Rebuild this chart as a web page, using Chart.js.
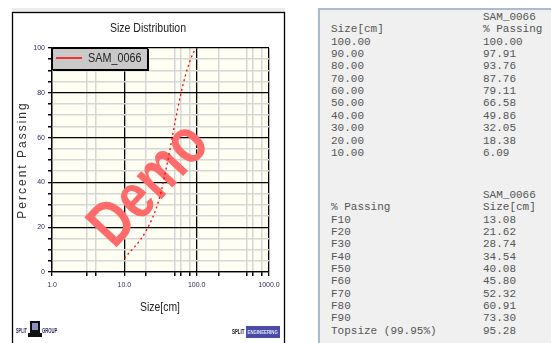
<!DOCTYPE html>
<html>
<head>
<meta charset="utf-8">
<script src="https://cdn.jsdelivr.net/npm/chart.js@4.4.0/dist/chart.umd.min.js"></script>
<style>
  html, body { margin:0; padding:0; background:#ffffff; width:551px; height:343px; overflow:hidden; }
  #wrap { position:absolute; left:0; top:0; width:290px; height:343px; }
  #panel { position:absolute; left:318px; top:8px; width:233px; height:335px; background:#f0f0f0;
           border-left:2px solid #a9bccd; border-top:2px solid #a9bccd; box-sizing:border-box; }
  .t { position:absolute; font-family:'Liberation Mono','DejaVu Sans Mono',monospace; font-size:11px;
       line-height:12px; color:#555555; white-space:pre; }
</style>
</head>
<body>
<div id="wrap"><canvas id="c" width="290" height="343"></canvas></div>
<div id="panel"></div>
<div id="txt"></div>
<script>
// ---------- data ----------
const sampleName = 'SAM_0066';
const sizes   = [100.00, 90.00, 80.00, 70.00, 60.00, 50.00, 40.00, 30.00, 20.00, 10.00];
const passing = [100.00, 97.91, 93.76, 87.76, 79.11, 66.58, 49.86, 32.05, 18.38, 6.09];
const fLabels = ['F10','F20','F30','F40','F50','F60','F70','F80','F90','Topsize (99.95%)'];
const fSizes  = [13.08, 21.62, 28.74, 34.54, 40.08, 45.80, 52.32, 60.91, 73.30, 95.28];
const xMajorTicks = [1, 10, 100, 1000];
const xGridTicks  = [1, 3, 4, 10, 20, 50, 60, 80, 100, 200, 500, 600, 800, 1000];
const yTicks = [0, 20, 40, 60, 80, 100];
const yGridStep = 5;

// ---------- right text panel ----------
(function(){
  const box = document.getElementById('txt');
  const col1 = 331, col2 = 483, step = 12.35;
  function put(text, x, cy){
    const s = document.createElement('div');
    s.className = 't'; s.textContent = text;
    s.style.left = x + 'px'; s.style.top = (cy - 6.5) + 'px';
    box.appendChild(s);
  }
  let y0 = 17.5;
  put(sampleName, col2, y0);
  put('Size[cm]', col1, y0 + step);
  put('% Passing', col2, y0 + step);
  sizes.forEach((s, i) => {
    put(s.toFixed(2), col1, y0 + step * (i + 2));
    put(passing[i].toFixed(2), col2, y0 + step * (i + 2));
  });
  let y1 = 195.3;
  put(sampleName, col2, y1);
  put('% Passing', col1, y1 + step);
  put('Size[cm]', col2, y1 + step);
  fLabels.forEach((l, i) => {
    put(l, col1, y1 + step * (i + 2));
    put(fSizes[i].toFixed(2), col2, y1 + step * (i + 2));
  });
})();

// ---------- chart ----------
function scaledText(ctx, text, x, y, font, sx, align, color){
  ctx.save();
  ctx.font = font;
  ctx.fillStyle = color || '#222';
  ctx.textBaseline = 'middle';
  const w = ctx.measureText(text).width * sx;
  let left = x;
  if (align === 'center') left = x - w / 2;
  else if (align === 'right') left = x - w;
  ctx.translate(left, y);
  ctx.scale(sx, 1);
  ctx.textAlign = 'left';
  ctx.fillText(text, 0, 0);
  ctx.restore();
}

const decor = {
  id: 'decor',
  beforeDraw(chart){
    const ctx = chart.ctx, a = chart.chartArea;
    ctx.save();
    ctx.fillStyle = '#ffffff';
    ctx.fillRect(0, 0, chart.width, chart.height);
    ctx.fillStyle = '#ececec';
    ctx.fillRect(12, 8, 273, 4);
    ctx.strokeStyle = '#000';
    ctx.lineWidth = 1.3;
    ctx.strokeRect(12.5, 12.5, 272, 340);
    ctx.fillStyle = '#fffef2';
    ctx.fillRect(a.left, a.top, a.right - a.left, a.bottom - a.top);
    ctx.restore();
  },
  beforeDatasetsDraw(chart){
    // watermark
    const ctx = chart.ctx;
    ctx.save();
    ctx.translate(146, 182);
    ctx.rotate(-47 * Math.PI / 180);
    ctx.scale(0.8, 1);
    ctx.font = 'bold 64px "Liberation Sans", Arial, sans-serif';
    ctx.fillStyle = '#ff6a6a';
    ctx.textAlign = 'center';
    ctx.textBaseline = 'alphabetic';
    ctx.fillText('Demo', 0, 23);
    ctx.restore();
  },
  afterDatasetsDraw(chart){
    const ctx = chart.ctx, a = chart.chartArea;
    const ds = chart.data.datasets[0];
    // legend box
    ctx.save();
    ctx.fillStyle = '#c9c9c9';
    ctx.fillRect(a.left, a.top, 95, 21);
    ctx.strokeStyle = '#000';
    ctx.lineWidth = 1;
    ctx.strokeRect(a.left + 0.5, a.top + 0.5, 95, 21);
    ctx.fillStyle = '#000';
    ctx.fillRect(a.left + 95, a.top + 1, 2, 22);
    ctx.fillRect(a.left + 1, a.top + 21, 96, 2);
    ctx.strokeStyle = ds.borderColor;
    ctx.lineWidth = 1.5;
    ctx.beginPath();
    ctx.moveTo(a.left + 4, a.top + 10);
    ctx.lineTo(a.left + 30, a.top + 10);
    ctx.stroke();
    ctx.restore();
    scaledText(ctx, ds.label, a.left + 36, a.top + 10.5, '13px "Liberation Sans", Arial, sans-serif', 0.83, 'left', '#222');
  },
  afterDraw(chart){
    const ctx = chart.ctx;
    scaledText(ctx, 'Size Distribution', 148, 28.5, '13px "Liberation Sans", Arial, sans-serif', 0.81, 'center', '#222');
    scaledText(ctx, 'Size[cm]', 160, 307.5, '13px "Liberation Sans", Arial, sans-serif', 0.8, 'center', '#222');
    // y title
    ctx.save();
    ctx.translate(22.5, 160);
    ctx.rotate(-Math.PI / 2);
    ctx.font = '12px "Liberation Sans", Arial, sans-serif';
    ctx.letterSpacing = '2px';
    ctx.fillStyle = '#333';
    ctx.textAlign = 'center';
    ctx.textBaseline = 'middle';
    ctx.fillText('Percent Passing', 0, 0);
    ctx.restore();
    // left logo
    const f6 = 'bold 7px "Liberation Sans", Arial, sans-serif';
    scaledText(ctx, 'SPLIT', 16, 331, f6, 0.55, 'left', '#2a2a55');
    ctx.save();
    ctx.fillStyle = '#111';
    ctx.fillRect(30, 321, 10, 12);
    ctx.fillRect(28, 333, 14, 4);
    ctx.fillStyle = '#9090c0';
    ctx.fillRect(32, 323, 6, 7);
    ctx.restore();
    scaledText(ctx, 'GROUP', 42, 331, f6, 0.6, 'left', '#2a2a55');
    // right logo
    scaledText(ctx, 'SPLIT', 232, 332, 'bold 8px "Liberation Sans", Arial, sans-serif', 0.55, 'left', '#111');
    ctx.save();
    ctx.fillStyle = '#4b4ba8';
    ctx.fillRect(246, 326, 34, 12);
    ctx.restore();
    scaledText(ctx, 'ENGINEERING', 247.5, 332, 'bold 6px "Liberation Sans", Arial, sans-serif', 0.72, 'left', '#e4e4f4');
  }
};

const points = sizes.map((s, i) => ({ x: s, y: passing[i] })).sort((p, q) => p.x - q.x);

new Chart(document.getElementById('c'), {
  type: 'line',
  data: {
    datasets: [{
      label: sampleName,
      data: points,
      borderColor: '#ff0000',
      borderWidth: 1.3,
      borderDash: [2, 3],
      pointRadius: 0,
      fill: false,
      cubicInterpolationMode: 'monotone'
    }]
  },
  options: {
    responsive: false,
    animation: false,
    devicePixelRatio: 1,
    layout: { padding: { left: 0, top: 48, right: 21, bottom: 0 } },
    plugins: { legend: { display: false }, title: { display: false }, tooltip: { enabled: false } },
    scales: {
      x: {
        type: 'logarithmic',
        min: 1, max: 1000,
        afterBuildTicks: s => { s.ticks = xGridTicks.map(v => ({ value: v })); },
        afterFit: s => { s.height = 71; },
        ticks: {
          autoSkip: false, maxRotation: 0, minRotation: 0, padding: 5,
          callback: v => xMajorTicks.includes(v) ? v.toFixed(1) : '',
          font: { family: '"Liberation Sans", Arial, sans-serif', size: 7 },
          color: '#2b2b5e'
        },
        grid: {
          color: c => (c.tick && xMajorTicks.includes(c.tick.value)) ? '#000000' : '#d6d6d6',
          lineWidth: c => (c.tick && xMajorTicks.includes(c.tick.value)) ? 1.3 : 1.5,
          tickLength: 4, tickColor: '#000'
        },
        border: { color: '#000', width: 1.3 }
      },
      y: {
        min: 0, max: 100,
        afterBuildTicks: s => {
          const t = [];
          for (let v = 0; v <= 100; v += yGridStep) t.push({ value: v });
          s.ticks = t;
        },
        afterFit: s => { s.width = 52; },
        ticks: {
          autoSkip: false, padding: 3,
          callback: v => yTicks.includes(v) ? String(v) : '',
          font: { family: '"Liberation Sans", Arial, sans-serif', size: 7 },
          color: '#2b2b5e'
        },
        grid: {
          color: c => (c.tick && yTicks.includes(c.tick.value)) ? '#000000' : '#d6d6d6',
          lineWidth: c => (c.tick && yTicks.includes(c.tick.value)) ? 1.3 : 1.5,
          tickLength: 4, tickColor: '#000'
        },
        border: { color: '#000', width: 1.3 }
      }
    }
  },
  plugins: [decor]
});
</script>
</body>
</html>
